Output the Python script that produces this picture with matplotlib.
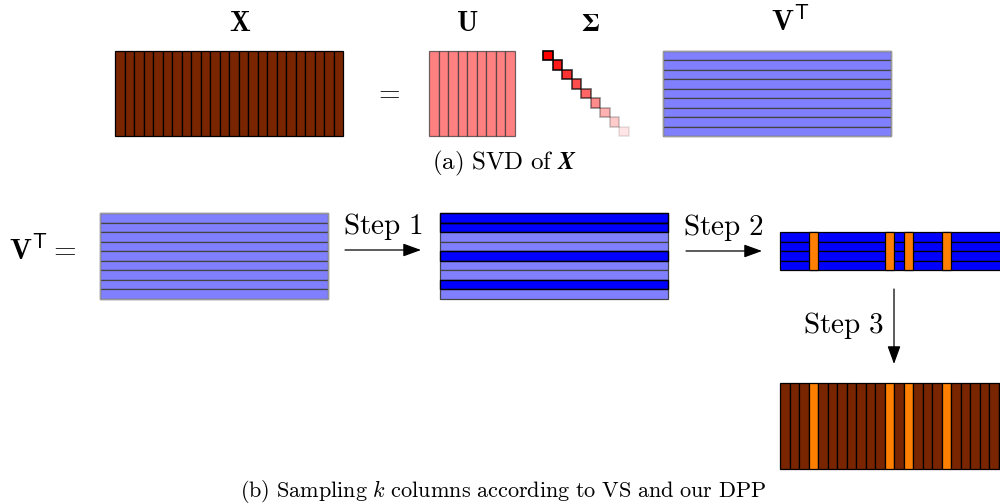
import numpy as np
import matplotlib
matplotlib.use("Agg")
import matplotlib.pyplot as plt
from matplotlib.patches import Rectangle

plt.rcParams['mathtext.fontset'] = 'cm'

# matrix shapes / selections
n_rows = 9
n_cols = 24
k_rows = 4
step1_rows = [0, 1, 4, 7]
dpp_cols = [3, 11, 13, 17]
sigma_alpha = [1.0, 0.9, 0.8, 0.7, 0.6, 0.45, 0.3, 0.2, 0.1]

brown = '#782500'
orange = '#ff8000'
light_red = '#ff8080'
light_blue = '#8080ff'
blue = '#0000ff'

cell = 9.5

fig = plt.figure(figsize=(10, 5.04), dpi=100)
ax = fig.add_axes([0, 0, 1, 1])
ax.set_xlim(0, 1000)
ax.set_ylim(504, 0)
ax.axis('off')


def col_strips(x0, y0, nr, nc, colors, edge='black', lw=1.0, ealpha=1.0):
    for j in range(nc):
        ax.add_patch(Rectangle((x0 + j * cell, y0), cell, nr * cell, facecolor=colors[j],
                               edgecolor=matplotlib.colors.to_rgba(edge, ealpha), lw=lw))


def row_strips(x0, y0, nr, nc, colors, edges, lw=1.0):
    for i in range(nr):
        ax.add_patch(Rectangle((x0, y0 + i * cell), nc * cell, cell, facecolor=colors[i],
                               edgecolor=edges[i], lw=lw))


# ---- (a) SVD of X
top = 50.5
col_strips(115, top, n_rows, n_cols, [brown] * n_cols, edge='black', lw=0.9)
col_strips(429, top, n_rows, n_rows, [light_red] * n_rows, edge='#333333', lw=0.9, ealpha=0.7)
for i, a in enumerate(sigma_alpha):
    ax.add_patch(Rectangle((543 + i * cell, top + i * cell), cell, cell,
                           facecolor=(1, 0, 0, a), edgecolor=(0, 0, 0, a), lw=1.2))
row_strips(663, top, n_rows, n_cols, [light_blue] * n_rows, ['#444444'] * n_rows, lw=0.9)
ax.add_patch(Rectangle((663, top), n_cols * cell, n_rows * cell, fill=False, edgecolor='#999999', lw=1))

ax.text(240, 31, r'$\mathbf{X}$', fontsize=20, ha='center', va='baseline')
ax.text(467, 31, r'$\mathbf{U}$', fontsize=20, ha='center', va='baseline')
ax.text(590, 31, 'Σ', fontsize=19, ha='center', va='baseline',
        family='STIXGeneral', weight='bold')
ax.text(771, 31, r'$\mathbf{V}^{\mathsf{T}}$', fontsize=21, ha='left', va='baseline')
ax.text(387, 92, r'$=$', fontsize=20, ha='center', va='center')
ax.text(432, 169, r'$\mathrm{(a)\ SVD\ of\ }\boldsymbol{X}$', fontsize=18, ha='left', va='baseline')

# ---- (b) sampling
y1 = 213
ax.text(9, 260, r'$\mathbf{V}^{\mathsf{T}}=$', fontsize=21, ha='left', va='baseline')
row_strips(100, y1, n_rows, n_cols, [light_blue] * n_rows, ['#444444'] * n_rows, lw=0.9)
ax.add_patch(Rectangle((100, y1), n_cols * cell, n_rows * cell, fill=False, edgecolor='#999999', lw=1))

cols1 = [blue if i in step1_rows else light_blue for i in range(n_rows)]
edg1 = ['black' if i in step1_rows else '#444444' for i in range(n_rows)]
row_strips(440, y1, n_rows, n_cols, cols1, edg1, lw=0.9)
for i in step1_rows:
    ax.add_patch(Rectangle((440, y1 + i * cell), n_cols * cell, cell, fill=False, edgecolor='black', lw=0.9))

y2 = 232
row_strips(780, y2, k_rows, n_cols, [blue] * k_rows, ['black'] * k_rows, lw=0.9)
for j in dpp_cols:
    ax.add_patch(Rectangle((780 + j * cell, y2), cell, k_rows * cell, facecolor=orange,
                           edgecolor='black', lw=0.9))

y3 = 383
col_strips(780, y3, n_rows, n_cols, [orange if j in dpp_cols else brown for j in range(n_cols)],
           edge='black', lw=0.9)

arrow = dict(arrowstyle='-|>,head_length=1.1,head_width=0.4', lw=0.9, color='black',
             shrinkA=0, shrinkB=0)
ax.annotate('', xy=(421, 250), xytext=(345, 250), arrowprops=arrow)
ax.annotate('', xy=(762, 251), xytext=(686, 251), arrowprops=arrow)
ax.annotate('', xy=(894, 364), xytext=(894, 289), arrowprops=arrow)
ax.text(343, 234, r'$\mathrm{Step\ 1}$', fontsize=21, ha='left', va='baseline')
ax.text(683, 235, r'$\mathrm{Step\ 2}$', fontsize=21, ha='left', va='baseline')
ax.text(803, 333, r'$\mathrm{Step\ 3}$', fontsize=21, ha='left', va='baseline')
ax.text(240, 497, r'$\mathrm{(b)\ Sampling\ }k\mathrm{\ columns\ according\ to\ VS\ and\ our\ DPP}$',
        fontsize=16, ha='left', va='baseline')

fig.savefig('out.png', dpi=100)
